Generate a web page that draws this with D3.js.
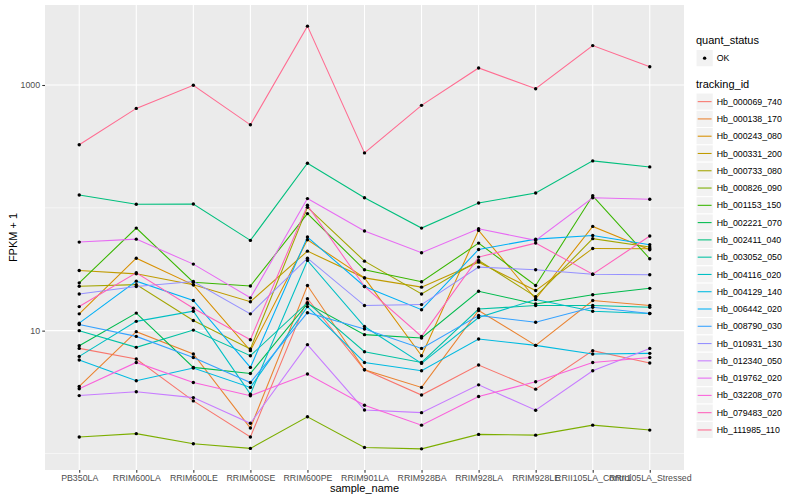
<!DOCTYPE html>
<html>
<head>
  <meta charset="utf-8">
  <title>FPKM + 1 by sample</title>
  <style>
    body { margin: 0; background: #fff; }
    text { font-family: "Liberation Sans", Arial, sans-serif; }
  </style>
</head>
<body>
  <svg id="chart"></svg>

  <script src="https://d3js.org/d3.v7.min.js"></script>
  <script>
    // Samples on the x axis
    const samples = ["PB350LA", "RRIM600LA", "RRIM600LE", "RRIM600SE", "RRIM600PE", "RRIM901LA",
      "RRIM928BA", "RRIM928LA", "RRIM928LE", "RRII105LA_Control", "RRII105LA_Stressed"];

    const trackingIds = ["Hb_000069_740", "Hb_000138_170", "Hb_000243_080", "Hb_000331_200",
      "Hb_000733_080", "Hb_000826_090", "Hb_001153_150", "Hb_002221_070", "Hb_002411_040",
      "Hb_003052_050", "Hb_004116_020", "Hb_004129_140", "Hb_006442_020", "Hb_008790_030",
      "Hb_010931_130", "Hb_012340_050", "Hb_019762_020", "Hb_032208_070", "Hb_079483_020",
      "Hb_111985_110"];

    // FPKM + 1 for each gene, one value per sample
    const hb_000069_740 = [7.17, 5.87, 2.68, 1.36, 18.2, 4.80, 2.99, 5.25, 3.34, 6.87, 5.45];
    const hb_000138_170 = [3.51, 9.81, 6.45, 1.61, 23.3, 4.80, 3.45, 14.6, 7.59, 17.6, 16.0];
    const hb_000243_080 = [13.7, 38.9, 23.6, 6.87, 55.0, 26.9, 6.25, 65.5, 18.1, 70.6, 45.6];
    const hb_000331_200 = [30.9, 29.0, 23.6, 17.2, 44.4, 26.9, 22.6, 36.1, 21.2, 46.7, 46.4];
    const hb_000733_080 = [23.0, 23.7, 12.1, 7.09, 100.9, 36.8, 19.9, 37.3, 18.9, 56.1, 47.9];
    const hb_000826_090 = [1.36, 1.45, 1.20, 1.10, 1.99, 1.12, 1.09, 1.43, 1.41, 1.70, 1.55];
    const hb_001153_150 = [24.5, 68.4, 24.8, 23.1, 89.7, 31.3, 25.0, 51.6, 23.3, 125.3, 38.5];
    const hb_002221_070 = [7.54, 13.9, 5.02, 4.48, 16.6, 9.28, 8.72, 20.9, 16.5, 19.6, 22.1];
    const hb_002411_040 = [127.2, 106.8, 107.4, 54.3, 230.8, 120.7, 68.4, 109.4, 132.1, 241, 215.3];
    const hb_003052_050 = [10.0, 7.31, 10.1, 6.25, 16.9, 6.74, 5.51, 15.0, 16.0, 16.0, 15.5];
    const hb_004116_020 = [6.17, 11.9, 14.4, 3.04, 37.3, 10.8, 5.41, 12.8, 17.9, 14.4, 13.8];
    const hb_004129_140 = [5.77, 3.91, 4.96, 3.45, 15.7, 5.51, 4.72, 8.56, 7.59, 6.45, 6.53];
    const hb_006442_020 = [11.5, 25.3, 17.6, 5.02, 57.8, 22.9, 14.8, 45.8, 55.6, 59.6, 50.1];
    const hb_008790_030 = [11.2, 8.98, 6.05, 3.78, 14.0, 10.3, 7.17, 13.3, 11.7, 15.5, 13.8];
    const hb_010931_130 = [19.9, 22.9, 25.1, 13.7, 38.9, 16.0, 16.3, 32.9, 31.3, 28.8, 28.5];
    const hb_012340_050 = [2.96, 3.18, 2.85, 1.76, 7.69, 2.26, 2.15, 3.62, 2.25, 4.72, 7.17];
    const hb_019762_020 = [52.6, 55.6, 34.8, 18.5, 118.9, 64.7, 43.1, 67.6, 54.3, 120.7, 117.3];
    const hb_032208_070 = [3.36, 5.51, 3.78, 2.95, 4.43, 2.47, 1.70, 2.91, 3.84, 5.51, 6.05];
    const hb_079483_020 = [15.7, 29.6, 15.2, 8.44, 104.8, 22.9, 8.98, 39.7, 51.6, 28.8, 58.9];
    const hb_111985_110 = [326, 645, 995, 474, 3015, 280, 683, 1377, 933, 2094, 1410];

    const seriesValues = [hb_000069_740, hb_000138_170, hb_000243_080, hb_000331_200, hb_000733_080,
      hb_000826_090, hb_001153_150, hb_002221_070, hb_002411_040, hb_003052_050, hb_004116_020,
      hb_004129_140, hb_006442_020, hb_008790_030, hb_010931_130, hb_012340_050, hb_019762_020,
      hb_032208_070, hb_079483_020, hb_111985_110];

    const yMajorTicks = [10, 1000];
    const yMinorTicks = [1, 100];
    const statusLabels = ["OK"];

    // ggplot hue palette for 20 levels
    const palette = ["#F8766D", "#EA8331", "#D89000", "#C09B00", "#A3A500", "#7CAE00", "#39B600",
      "#00BB4E", "#00BF7D", "#00C1A3", "#00BFC4", "#00BAE0", "#00B0F6", "#35A2FF", "#9590FF",
      "#C77CFF", "#E76BF3", "#FA62DB", "#FF62BC", "#FF6C91"];

    const width = 800;
    const height = 500;
    const panel = { left: 45, right: 684, top: 5, bottom: 470 };

    const svg = d3.select("#chart")
      .attr("width", width)
      .attr("height", height);

    const series = trackingIds.map((id, i) => ({
      id: id,
      color: palette[i],
      points: samples.map((s, j) => ({ sample: s, value: seriesValues[i][j] }))
    }));

    // log domain with 5% expansion, like ggplot
    const allValues = seriesValues.flat();
    const lo = Math.log10(d3.min(allValues));
    const hi = Math.log10(d3.max(allValues));
    const pad = (hi - lo) * 0.05;

    const x = d3.scalePoint()
      .domain(samples)
      .range([panel.left, panel.right])
      .padding(0.6);

    const y = d3.scaleLog()
      .domain([Math.pow(10, lo - pad), Math.pow(10, hi + pad)])
      .range([panel.bottom, panel.top]);

    // panel background and grid
    svg.append("rect")
      .attr("x", panel.left)
      .attr("y", panel.top)
      .attr("width", panel.right - panel.left)
      .attr("height", panel.bottom - panel.top)
      .attr("fill", "#EBEBEB");

    svg.append("g").selectAll("line")
      .data(yMinorTicks)
      .enter().append("line")
      .attr("x1", panel.left).attr("x2", panel.right)
      .attr("y1", d => y(d)).attr("y2", d => y(d))
      .attr("stroke", "#fff").attr("stroke-width", 0.53);

    svg.append("g").selectAll("line")
      .data(yMajorTicks)
      .enter().append("line")
      .attr("x1", panel.left).attr("x2", panel.right)
      .attr("y1", d => y(d)).attr("y2", d => y(d))
      .attr("stroke", "#fff").attr("stroke-width", 1.07);

    svg.append("g").selectAll("line")
      .data(samples)
      .enter().append("line")
      .attr("x1", d => x(d)).attr("x2", d => x(d))
      .attr("y1", panel.top).attr("y2", panel.bottom)
      .attr("stroke", "#fff").attr("stroke-width", 1.07);

    // axes
    const xAxis = svg.append("g")
      .attr("transform", `translate(0,${panel.bottom})`)
      .call(d3.axisBottom(x).tickSize(2.75).tickPadding(2.2));

    const yAxis = svg.append("g")
      .attr("transform", `translate(${panel.left},0)`)
      .call(d3.axisLeft(y).tickValues(yMajorTicks).tickFormat(d3.format("d")).tickSize(2.75).tickPadding(2.2));

    [xAxis, yAxis].forEach(a => {
      a.select(".domain").remove();
      a.selectAll(".tick line").attr("stroke", "#333333").attr("stroke-width", 1.07);
      a.selectAll(".tick text")
        .attr("fill", "#4D4D4D")
        .style("font-size", "8.8px")
        .style("font-family", "'Liberation Sans', Arial, sans-serif");
    });

    svg.append("text")
      .attr("x", (panel.left + panel.right) / 2)
      .attr("y", 492)
      .attr("text-anchor", "middle")
      .style("font-size", "11px")
      .text("sample_name");

    svg.append("text")
      .attr("transform", `translate(17,${(panel.top + panel.bottom) / 2}) rotate(-90)`)
      .attr("text-anchor", "middle")
      .style("font-size", "11px")
      .text("FPKM + 1");

    // lines then points
    const line = d3.line()
      .x(d => x(d.sample))
      .y(d => y(d.value));

    svg.append("g").selectAll("path")
      .data(series)
      .enter().append("path")
      .attr("d", d => line(d.points))
      .attr("fill", "none")
      .attr("stroke", d => d.color)
      .attr("stroke-width", 1.07);

    svg.append("g").selectAll("circle")
      .data(series.flatMap(d => d.points))
      .enter().append("circle")
      .attr("cx", d => x(d.sample))
      .attr("cy", d => y(d.value))
      .attr("r", 1.7)
      .attr("fill", "#000");

    // legends
    const legend = svg.append("g").attr("transform", "translate(696,0)");
    const keySize = 17.28;

    legend.append("text")
      .attr("x", 0).attr("y", 44)
      .style("font-size", "11px")
      .text("quant_status");

    const statusKeys = legend.selectAll(".status-key")
      .data(statusLabels)
      .enter().append("g")
      .attr("class", "status-key")
      .attr("transform", (d, i) => `translate(0,${49.5 + i * keySize})`);

    statusKeys.append("rect")
      .attr("width", keySize).attr("height", keySize)
      .attr("fill", "#F2F2F2").attr("stroke", "#fff");

    statusKeys.append("circle")
      .attr("cx", keySize / 2).attr("cy", keySize / 2)
      .attr("r", 1.7).attr("fill", "#000");

    statusKeys.append("text")
      .attr("x", keySize + 3.5).attr("y", keySize / 2)
      .attr("dy", "0.35em")
      .style("font-size", "8.8px")
      .text(d => d);

    legend.append("text")
      .attr("x", 0).attr("y", 88)
      .style("font-size", "11px")
      .text("tracking_id");

    const idKeys = legend.selectAll(".id-key")
      .data(series)
      .enter().append("g")
      .attr("class", "id-key")
      .attr("transform", (d, i) => `translate(0,${93 + i * keySize})`);

    idKeys.append("rect")
      .attr("width", keySize).attr("height", keySize)
      .attr("fill", "#F2F2F2").attr("stroke", "#fff");

    idKeys.append("line")
      .attr("x1", 1.7).attr("x2", keySize - 1.7)
      .attr("y1", keySize / 2).attr("y2", keySize / 2)
      .attr("stroke", d => d.color)
      .attr("stroke-width", 1.07);

    idKeys.append("text")
      .attr("x", keySize + 3.5).attr("y", keySize / 2)
      .attr("dy", "0.35em")
      .style("font-size", "8.8px")
      .text(d => d.id);
  </script>
</body>
</html>
